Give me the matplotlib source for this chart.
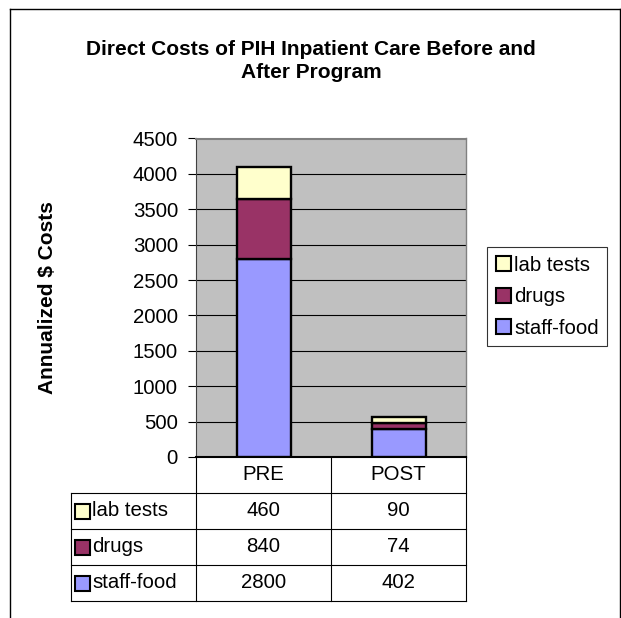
import matplotlib
matplotlib.use('Agg')
import matplotlib.pyplot as plt
from matplotlib.patches import Patch, Rectangle
from matplotlib.lines import Line2D

plt.rcParams['font.family'] = ['Liberation Sans', 'DejaVu Sans']

categories = ['PRE', 'POST']
series = ['lab tests', 'drugs', 'staff-food']
staff_food = [2800, 402]
drugs = [840, 74]
lab_tests = [460, 90]
colors = {'staff-food': '#9999FF', 'drugs': '#993366', 'lab tests': '#FFFFCC'}
values = {'lab tests': lab_tests, 'drugs': drugs, 'staff-food': staff_food}

W, H = 621, 618
FS = 14.7
fig = plt.figure(figsize=(W / 100, H / 100), dpi=100)

def fx(px):
    return px / W

def fy(py):
    return 1 - py / H

# outer chart border (bottom cut off)
for xs, ys in [([9.5, 9.5], [618, 9]), ([9.5, 619.5], [9, 9]), ([619.5, 619.5], [9, 618])]:
    fig.add_artist(Line2D([fx(v) for v in xs], [fy(v) for v in ys], color='black', lw=1.0))

# plot area
x0, x1, y0, y1 = 196, 466, 138.5, 457
ax = fig.add_axes([fx(x0), fy(y1), fx(x1) - fx(x0), (y1 - y0) / H])
ax.set_facecolor('#C0C0C0')
xpos = list(range(len(categories)))
bottom = [0, 0]
for name in ['staff-food', 'drugs', 'lab tests']:
    ax.bar(xpos, values[name], width=0.4, bottom=bottom, color=colors[name],
           edgecolor='black', linewidth=1.7, zorder=3)
    bottom = [b + v for b, v in zip(bottom, values[name])]
ax.set_xlim(-0.5, 1.5)
ax.set_ylim(0, 4500)
ax.set_yticks(range(0, 4501, 500))
ax.set_xticks([])
for yv in range(500, 4001, 500):
    ax.axhline(yv, color='black', lw=0.8, zorder=1)
ax.tick_params(axis='y', length=6, width=0.8, pad=7, labelsize=FS, color='black')
ax.spines['top'].set_color('#808080')
ax.spines['right'].set_color('#808080')
ax.spines['top'].set_linewidth(1.5)
ax.spines['right'].set_linewidth(1.0)
ax.spines['left'].set_color('#404040')
ax.spines['bottom'].set_linewidth(1.5)
ax.set_ylabel('Annualized $ Costs', fontsize=15, fontweight='bold', labelpad=0)
ax.yaxis.set_label_coords(-(x0 - 48) / (x1 - x0), 0.5)
ax.yaxis.label.set_va('center')

fig.text(fx(311), fy(61), 'Direct Costs of PIH Inpatient Care Before and\nAfter Program',
         ha='center', va='center', fontsize=15, fontweight='bold', linespacing=1.3)

# data table below the plot
tl, tb = 70.5, 601
unit = (x1 - x0) / 2
lab_w = (x0 - tl) / unit
tab = fig.add_axes([fx(tl), fy(tb), fx(x1) - fx(tl), (tb - y1) / H])
tab.set_xlim(-0.5 - lab_w, 1.5)
tab.set_ylim(4, 0)
tab.axis('off')
lk = dict(color='black', lw=0.8, clip_on=False)
tab.plot([-0.5, -0.5], [0, 4], **lk)
tab.plot([0.5, 0.5], [0, 4], **lk)
tab.plot([1.5, 1.5], [0, 4], **lk)
tab.plot([-0.5 - lab_w, -0.5 - lab_w], [1, 4], **lk)
for r in [1, 2, 3, 4]:
    tab.plot([-0.5 - lab_w, 1.5], [r, r], **lk)
for i, c in enumerate(categories):
    tab.text(i, 0.5, c, ha='center', va='center', fontsize=FS)
sw_w, sw_h = 15 / unit, 15 / 36
for r, name in enumerate(series, start=1):
    tab.add_patch(Rectangle((-0.5 - lab_w + 4.5 / unit, r + 0.5 - sw_h / 2), sw_w, sw_h,
                            facecolor=colors[name], edgecolor='black', lw=1.5, clip_on=False))
    tab.text(-0.5 - lab_w + 22 / unit, r + 0.5, name, ha='left', va='center', fontsize=FS)
    for i in range(len(categories)):
        tab.text(i, r + 0.5, str(values[name][i]), ha='center', va='center', fontsize=FS)

# legend
handles = [Patch(facecolor=colors[n], edgecolor='black', lw=1.5) for n in series]
leg = fig.legend(handles, series, loc='upper left', bbox_to_anchor=(fx(487), fy(247)),
                 fontsize=FS, frameon=True, fancybox=False, borderaxespad=0,
                 handlelength=0.75, handleheight=0.75, handletextpad=0.15,
                 labelspacing=0.62, borderpad=0.42)
leg.get_frame().set_edgecolor('black')
leg.get_frame().set_linewidth(0.8)

fig.savefig('out.png', dpi=100)
